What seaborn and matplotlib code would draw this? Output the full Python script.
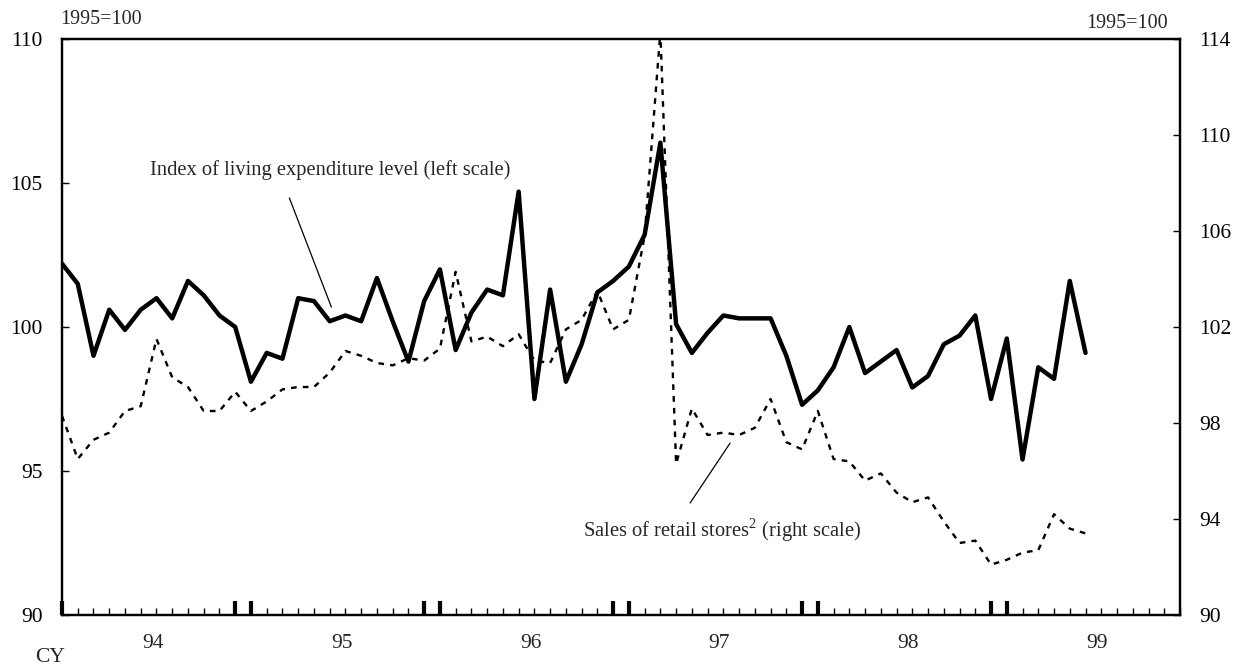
import numpy as np
import pandas as pd
import seaborn as sns
import matplotlib.pyplot as plt
import matplotlib.transforms as mtransforms

# monthly data, Jan 1994 .. Jun 1999 (1995=100)
living = [102.2, 101.5, 99.0, 100.6, 99.9, 100.6, 101.0, 100.3, 101.6, 101.1, 100.4, 100.0,
          98.1, 99.1, 98.9, 101.0, 100.9, 100.2, 100.4, 100.2, 101.7, 100.2, 98.8, 100.9,
          102.0, 99.2, 100.5, 101.3, 101.1, 104.7, 97.5, 101.3, 98.1, 99.4, 101.2, 101.6,
          102.1, 103.2, 106.4, 100.1, 99.1, 99.8, 100.4, 100.3, 100.3, 100.3, 99.0, 97.3,
          97.8, 98.6, 100.0, 98.4, 98.8, 99.2, 97.9, 98.3, 99.4, 99.7, 100.4, 97.5,
          99.6, 95.4, 98.6, 98.2, 101.6, 99.1]
retail = [98.3, 96.5, 97.3, 97.6, 98.5, 98.7, 101.5, 99.9, 99.5, 98.5, 98.5, 99.3,
          98.5, 98.9, 99.4, 99.5, 99.5, 100.1, 101.0, 100.8, 100.5, 100.4, 100.7, 100.6,
          101.1, 104.3, 101.4, 101.6, 101.2, 101.7, 100.6, 100.5, 101.9, 102.3, 103.5, 101.9,
          102.3, 105.8, 114.3, 96.3, 98.6, 97.5, 97.6, 97.5, 97.8, 99.0, 97.2, 96.9,
          98.5, 96.5, 96.4, 95.6, 95.9, 95.1, 94.7, 94.9, 93.9, 93.0, 93.1, 92.1,
          92.3, 92.6, 92.7, 94.2, 93.6, 93.4]
year_labels = ["94", "95", "96", "97", "98", "99"]
left_ticks = [90, 95, 100, 105, 110]
right_ticks = [90, 94, 98, 102, 106, 110, 114]

df = pd.DataFrame({"month": np.arange(len(living)), "living": living, "retail": retail})

sns.set_theme(style="white")
plt.rcParams['font.family'] = ['Liberation Serif', 'DejaVu Serif']

fig = plt.figure(figsize=(12.34, 6.66), dpi=100)
ax = fig.add_axes([62/1234, 1 - 615/666, (1180-62)/1234, (615-39)/666])
ax2 = ax.twinx()

sns.lineplot(data=df, x="month", y="living", ax=ax, color="black", lw=3.2)
sns.lineplot(data=df, x="month", y="retail", ax=ax2, color="black", lw=1.7,
             linestyle=(0, (2.4, 2.6)))

ax.set_xlim(0, 71)
ax.set_ylim(90, 110)
ax2.set_ylim(90, 114)
ax.set_xlabel("")
ax.set_ylabel("")
ax2.set_ylabel("")

for a in (ax, ax2):
    for s in a.spines.values():
        s.set_color("black")
        s.set_linewidth(1.6)

# y ticks
ax.set_yticks(left_ticks)
ax.set_yticklabels([str(t) for t in left_ticks])
ax2.set_yticks(right_ticks)
ax2.set_yticklabels([str(t) for t in right_ticks])
ax.tick_params(axis="y", direction="in", length=5, width=1, labelsize=15.5, pad=14,
               left=True, colors="black")
ax2.tick_params(axis="y", direction="in", length=5, width=1, labelsize=15.5, pad=14,
                right=True, colors="black")

# x ticks: months small, year boundaries thick
thick = [0] + [m for k in range(1, 6) for m in (12 * k - 1, 12 * k)]
ax.set_xticks(thick)
ax.set_xticklabels([])
ax.set_xticks(range(72), minor=True)
ax.tick_params(axis="x", which="major", direction="in", length=10, width=3, bottom=True,
               colors="black")
ax.tick_params(axis="x", which="minor", direction="in", length=5, width=1, bottom=True,
               colors="black")
ax2.tick_params(axis="x", which="both", bottom=False, top=False)

trans = mtransforms.blended_transform_factory(ax.transData, fig.transFigure)
for k, lab in enumerate(year_labels):
    ax.text(5.75 + 12 * k, 1 - 643/666, lab, transform=trans, ha="center", va="center",
            fontsize=15.5)
fig.text(50/1234, 1 - 658/666, "CY", ha="center", va="center", fontsize=15.5)

fig.text(60/1234, 1 - 20/666, "1995=100", ha="left", va="center", fontsize=14.5)
fig.text(1168/1234, 1 - 24/666, "1995=100", ha="right", va="center", fontsize=14.5)

# annotations
ax.text(5.6, 105.45, "Index of living expenditure level (left scale)", ha="left",
        va="center", fontsize=14.8)
ax.plot([14.44, 17.11], [104.48, 100.69], color="black", lw=0.9)
ax.text(33.1, 92.95, r"Sales of retail stores$^{\mathregular{2}}$ (right scale)", ha="left",
        va="center", fontsize=14.8)
ax.plot([39.89, 42.43], [93.89, 95.97], color="black", lw=0.9)

fig.savefig("out.png", dpi=100)
